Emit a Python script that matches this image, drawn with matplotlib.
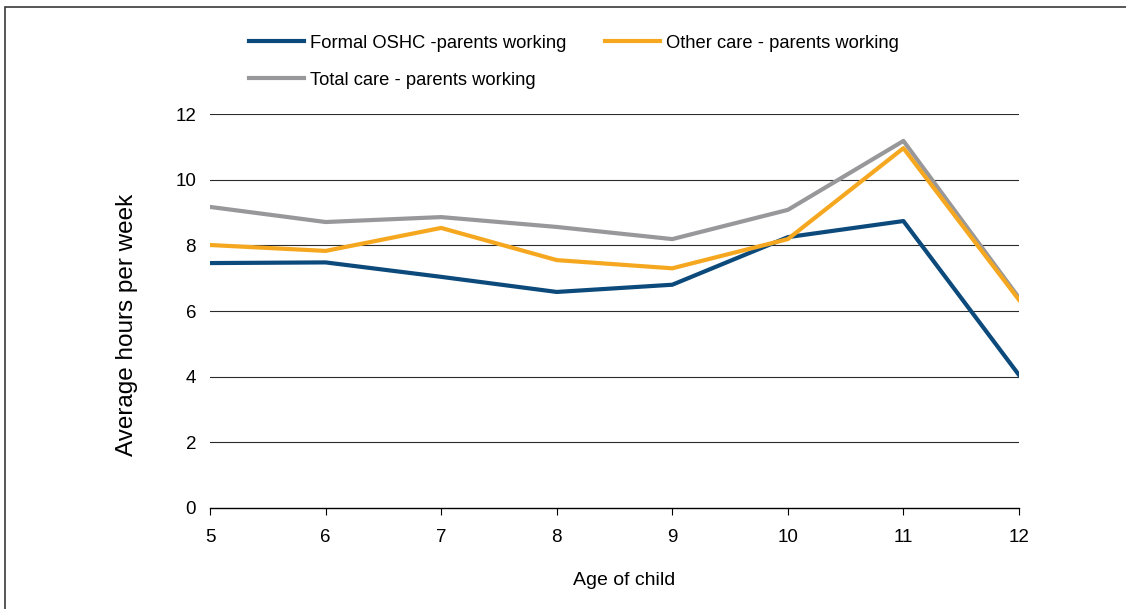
import matplotlib.pyplot as plt
from matplotlib.patches import Rectangle

plt.rcParams['font.family'] = ['Liberation Sans', 'DejaVu Sans']

# data
ages = [5, 6, 7, 8, 9, 10, 11, 12]
formal_oshc = [7.46, 7.48, 7.04, 6.58, 6.80, 8.25, 8.74, 4.05]
other_care = [8.01, 7.83, 8.53, 7.55, 7.30, 8.19, 10.96, 6.34]
total_care = [9.17, 8.71, 8.86, 8.56, 8.19, 9.08, 11.18, 6.40]
yticks = [0, 2, 4, 6, 8, 10, 12]

navy = '#0d4a7c'
orange = '#f5a81f'
grey = '#98989b'

fig = plt.figure(figsize=(11.26, 6.09), dpi=100)
ax = fig.add_axes([210 / 1126, 1 - 508 / 609, (1019 - 210) / 1126, (508 - 114) / 609])

# outer frame (only top and left visible in the picture)
fig.patches.append(Rectangle((5 / 1126, -0.1), 1.2, 1 - 7 / 609 + 0.1,
                             transform=fig.transFigure, fill=False,
                             edgecolor='#3a3a3a', lw=1.2))

l1, = ax.plot(ages, formal_oshc, color=navy, lw=3, label='Formal OSHC -parents working', zorder=3)
l2, = ax.plot(ages, other_care, color=orange, lw=3, label='Other care - parents working', zorder=3)
l3, = ax.plot(ages, total_care, color=grey, lw=3, label='Total care - parents working', zorder=2)

ax.set_xlim(5, 12)
ax.set_ylim(0, 12)
ax.set_yticks(yticks)
ax.set_xticks(ages)
for y in yticks[1:]:
    ax.axhline(y, color='#2b2b2b', lw=0.8, zorder=1)

for s in ['top', 'right', 'left']:
    ax.spines[s].set_visible(False)
ax.spines['bottom'].set_color('black')
ax.spines['bottom'].set_linewidth(1.0)
ax.tick_params(axis='y', length=0, pad=10, labelsize=13.5)
ax.tick_params(axis='x', length=5, width=0.8, direction='out', pad=10, labelsize=13.5)

ax.set_ylabel('Average hours per week', fontsize=17.5)
ax.yaxis.set_label_coords(-0.089, 0.464)
ax.set_xlabel('Age of child', fontsize=14)
ax.xaxis.set_label_coords(0.512, -0.163)

fig.legend([l1, l3, l2], [l1.get_label(), l3.get_label(), l2.get_label()],
           ncol=2, frameon=False, fontsize=13.2, loc='upper left',
           bbox_to_anchor=(232 / 1126, 1 - 18 / 609), handlelength=3.0,
           columnspacing=2.1, labelspacing=1.1, handletextpad=0.35)

fig.savefig('out.png', dpi=100)
